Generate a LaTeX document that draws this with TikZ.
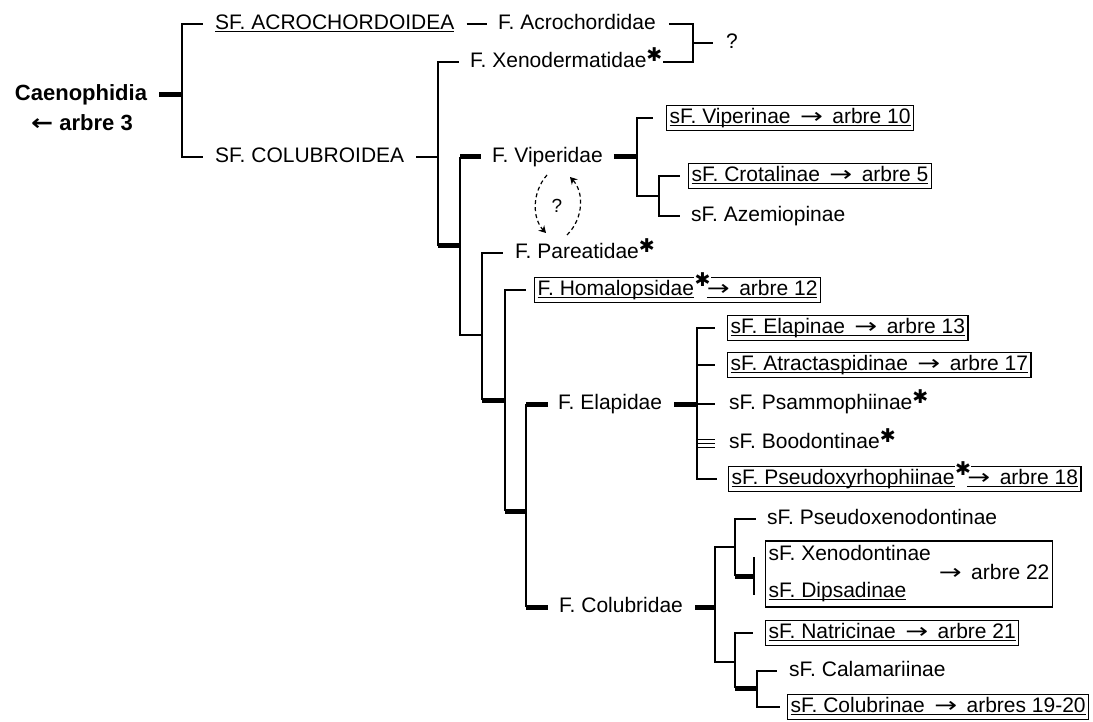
\documentclass[tikz,border=0pt]{standalone}
\usepackage{fontspec}
\setmainfont{Liberation Sans}
\newfontfamily\djv{DejaVu Sans}
\usetikzlibrary{arrows.meta}
\newcommand\uln[1]{\setbox0\hbox{#1}\rlap{\rule[-2.5pt]{\wd0}{1pt}}\box0}
\newcommand\arw{\scalebox{1.3}[1]{\djv →}}
\newcommand\astk{\raisebox{6pt}{\djv\fontsize{19}{19}\selectfont ✱}}
\newcommand\astb{\raisebox{9pt}{\setlength\fboxsep{0.5pt}\colorbox{white}{\djv\fontsize{19}{19}\selectfont ✱}}}
\newcommand\ar{\hspace{.45em}\arw\hspace{.45em}}
\tikzset{
 ln/.style={line width=1.5pt},
 tk/.style={line width=5pt},
 dsh/.style={line width=1.2pt, dash pattern=on 4pt off 3pt},
 lbl/.style={inner sep=0pt, anchor=west, text height=15pt, text depth=4.5pt, font=\fontsize{21}{25}\selectfont},
 bx/.style={lbl, draw, line width=1.2pt, inner xsep=3pt, inner ysep=2.5pt},
 rootlbl/.style={lbl, anchor=center, font=\bfseries\fontsize{22}{26}\selectfont},
}
\begin{document}
\begin{tikzpicture}[x=1pt,y=-1pt]
\useasboundingbox (0,0) rectangle (1093,722);
% nodes
\node[rootlbl] (caen) at (81,95) {Caenophidia};
\node[rootlbl] (arb3) at (82,125) {\scalebox{1.2}[1]{\djv\bfseries ←} arbre 3};
\node[lbl] (acroSF) at (215,24) {\uln{SF. ACROCHORDOIDEA}};
\node[lbl] (colSF) at (215,157) {SF. COLUBROIDEA};
\node[lbl] (acroF) at (498,24) {F. Acrochordidae};
\node[lbl] (xeno) at (470,62) {F. Xenodermatidae\astk};
\node[lbl] (qm) at (726,43) {?};
\node[lbl] (viper) at (492,157) {F. Viperidae};
\node[lbl] (pareat) at (515,253) {F. Pareatidae\astk};
\node[bx] (homB) at (534,290) {\uln{F. Homalopsidae}\astb\kern-4pt\uln{\arw\hspace{.45em}arbre 12}};
\node[lbl] (elap) at (558,404) {F. Elapidae};
\node[lbl] (colub) at (559,607) {F. Colubridae};
\node[bx] (vipB) at (666,118) {\uln{sF. Viperinae\ar arbre 10}};
\node[bx] (crotB) at (688,176) {\uln{sF. Crotalinae\ar arbre 5}};
\node[lbl] (azem) at (691,216) {sF. Azemiopinae};
\node[bx] (elpB) at (727,328) {\uln{sF. Elapinae\ar arbre 13}};
\node[bx] (atrB) at (727,365) {\uln{sF. Atractaspidinae\ar arbre 17}};
\node[lbl] (psam) at (729,404) {sF. Psammophiinae\astk};
\node[lbl] (bood) at (729,443) {sF. Boodontinae\astk};
\node[bx] (pseB) at (728,479) {\uln{sF. Pseudoxyrhophiinae}\astb\kern-4pt\uln{\arw\hspace{.45em}arbre 18}};
\node[lbl] (pxen) at (767,519) {sF. Pseudoxenodontinae};
\node[draw, line width=1.2pt, inner xsep=3pt, inner ysep=2pt, anchor=west, font=\fontsize{21}{25}\selectfont] (xdB) at (765,574)
  {\begin{tabular}{@{}l@{}}sF. Xenodontinae\\[12pt]\uln{sF. Dipsadinae}\end{tabular}\hspace{8pt}\arw\hspace{.45em}arbre 22};
\node[bx] (natB) at (765,633) {\uln{sF. Natricinae\ar arbre 21}};
\node[lbl] (calam) at (789,671) {sF. Calamariinae};
\node[bx] (colB) at (787,707) {\uln{sF. Colubrinae\ar arbres 19-20}};
% junctions
\coordinate (j0) at (182,95);
\coordinate (jq) at (693,43);
\coordinate (j1) at (438,157);
\coordinate (j2) at (460,246);
\coordinate (j3) at (482,335);
\coordinate (j4) at (505,400);
\coordinate (j5) at (526,511);
\coordinate (jv) at (637,157);
\coordinate (jc) at (659,196);
\coordinate (je) at (697,404);
\coordinate (jk) at (715,607);
\coordinate (ja) at (735,547);
\coordinate (jb) at (754,576);
\coordinate (jc2) at (735,662);
\coordinate (jd) at (757,688);
% root
\draw[tk] ([xshift=12pt]caen.east) -- (j0);
\draw[ln] (j0) |- ([xshift=-12pt]acroSF.west);
\draw[ln] (j0) |- ([xshift=-12pt]colSF.west);
\draw[ln] ([xshift=12pt]acroSF.east) -- ([xshift=-11pt]acroF.west);
\draw[ln] ([xshift=13pt]acroF.east) -| (jq) |- (xeno.east);
\draw[ln] (jq) -- ([xshift=-13pt]qm.west);
\draw[ln] ([xshift=12pt]colSF.east) -- (j1);
\draw[ln] (j1) |- ([xshift=-11pt]xeno.west);
\draw[ln] (j1) -- (j1 |- j2);
\draw[tk] (j1 |- j2) -- (j2);
\draw[ln] (j2) -- (j2 |- viper.west);
\draw[tk] (j2 |- viper.west) -- ([xshift=-11pt]viper.west);
\draw[ln] (j2) |- (j3);
\draw[ln] (j3) |- ([xshift=-12pt]pareat.west);
\draw[ln] (j3) -- (j3 |- j4);
\draw[tk] (j3 |- j4) -- (j4);
\draw[ln] (j4) |- ([xshift=-8pt]homB.west);
\draw[ln] (j4) -- (j4 |- j5);
\draw[tk] (j4 |- j5) -- (j5);
\draw[ln] (j5) -- (j5 |- elap.west) (j5) -- (j5 |- colub.west);
\draw[tk] (j5 |- elap.west) -- ([xshift=-10pt]elap.west);
\draw[tk] (j5 |- colub.west) -- ([xshift=-11pt]colub.west);
% Viperidae
\draw[tk] ([xshift=11pt]viper.east) -- (jv);
\draw[ln] (jv) |- ([xshift=-13pt]vipB.west);
\draw[ln] (jv) |- (jc);
\draw[ln] (jc) |- ([xshift=-8pt]crotB.west);
\draw[ln] (jc) |- ([xshift=-11pt]azem.west);
% Viperidae <-> Pareatidae
\coordinate (da1) at (547,175);
\coordinate (da2) at (546,233);
\coordinate (db1) at (567,235);
\coordinate (db2) at (570,177);
\draw[dsh,-{Stealth[length=7pt,width=8pt]}] (da1) .. controls (532,192) and (532,218) .. (da2);
\draw[dsh,-{Stealth[length=7pt,width=8pt]}] (db1) .. controls (584,218) and (584,192) .. (db2);
\node[lbl, anchor=center, font=\fontsize{19}{22}\selectfont] (qv) at (557,207) {?};
% Elapidae
\draw[tk] ([xshift=12pt]elap.east) -- (je);
\draw[ln] (je) |- ([xshift=-12pt]elpB.west);
\draw[ln] (je) |- ([xshift=-12pt]atrB.west);
\draw[ln] (je) -- ([xshift=-14pt]psam.west);
\draw[ln] (je) |- ([xshift=-11pt]pseB.west);
\path (je |- bood.west) coordinate (jbd);
\foreach \d in {-4,0,4} \draw[line width=1pt] ([yshift=\d pt]jbd) -- ([xshift=-14pt,yshift=\d pt]bood.west);
% Colubridae
\draw[tk] ([xshift=12pt]colub.east) -- (jk);
\draw[ln] (jk) |- (ja);
\draw[ln] (jk) |- (jc2);
\draw[ln] (ja) |- ([xshift=-11pt]pxen.west);
\draw[ln] (ja) -- (ja |- jb);
\draw[tk] (ja |- jb) -- (jb);
\draw[ln] ([yshift=19pt]jb) -- ([yshift=-19pt]jb);
\draw[ln] (jc2) |- ([xshift=-12pt]natB.west);
\draw[ln] (jc2) -- (jc2 |- jd);
\draw[tk] (jc2 |- jd) -- (jd);
\draw[ln] (jd) |- ([xshift=-12pt]calam.west);
\draw[ln] (jd) |- ([xshift=-7pt]colB.west);
\end{tikzpicture}
\end{document}
